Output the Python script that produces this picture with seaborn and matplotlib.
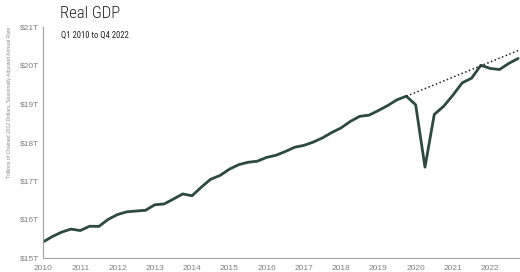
import numpy as np
import pandas as pd
import matplotlib
matplotlib.use("Agg")
import matplotlib.pyplot as plt
import seaborn as sns

# ---- data (trillions of chained 2012 dollars, SAAR) ----
years = list(range(2010, 2023))
quarters = ["Q1", "Q2", "Q3", "Q4"]
gdp = [
    15.415, 15.557, 15.672, 15.751,   # 2010
    15.713, 15.825, 15.821, 16.004,   # 2011
    16.129, 16.199, 16.221, 16.239,   # 2012
    16.383, 16.403, 16.532, 16.664,   # 2013
    16.617, 16.842, 17.047, 17.143,   # 2014
    17.306, 17.423, 17.486, 17.514,   # 2015
    17.613, 17.668, 17.764, 17.876,   # 2016
    17.925, 18.010, 18.120, 18.260,   # 2017
    18.380, 18.550, 18.680, 18.710,   # 2018
    18.830, 18.960, 19.110, 19.202,   # 2019
    18.980, 17.360, 18.730, 18.940,   # 2020
    19.230, 19.550, 19.670, 20.006,   # 2021
    19.924, 19.895, 20.055, 20.183,   # 2022
]
trend_x = [2019.75, 2022.78]
trend_y = [19.202, 20.40]
ytick_vals = [15, 16, 17, 18, 19, 20, 21]
ytick_labels = ["$15T", "$16T", "$17T", "$18T", "$19T", "$20T", "$21T"]
xtick_vals = years
title = "Real GDP"
subtitle = "Q1 2010 to Q4 2022"
ylabel = "Trillions of Chained 2012 Dollars, Seasonally Adjusted Annual Rate"

t = [y + i / 4 for y in years for i in range(4)]
df = pd.DataFrame({"t": t, "gdp": gdp})

sns.set_theme(style="white")
plt.rcParams["font.family"] = ["Liberation Sans", "DejaVu Sans"]
head_font = ["Roboto Condensed", "Open Sans Condensed", "Liberation Sans Narrow",
             "Liberation Sans", "DejaVu Sans"]

fig = plt.figure(figsize=(5.2, 2.72), dpi=100)
ax = fig.add_axes([43 / 520, 14 / 272, 1 - 43 / 520, (258 - 27) / 272])

sns.lineplot(data=df, x="t", y="gdp", ax=ax, color="#2c4a40", linewidth=2.0)
ax.plot(trend_x, trend_y, color="#222222", linestyle=(0, (1, 1.6)), linewidth=1.1)

ax.set_xlim(2010, 2022.8)
ax.set_ylim(15, 21)
ax.set_xticks(xtick_vals)
ax.set_xticklabels([str(y) for y in xtick_vals])
ax.set_yticks(ytick_vals)
ax.set_yticklabels(ytick_labels)
ax.tick_params(axis="both", length=0, labelsize=6, colors="#808080", pad=3)
ax.tick_params(axis="x", pad=5)
ax.set_xlabel("")
ax.set_ylabel("")
for s in ["top", "right"]:
    ax.spines[s].set_visible(False)
for s in ["left", "bottom"]:
    ax.spines[s].set_color("#a0a0a0")
    ax.spines[s].set_linewidth(0.8)

fig.text(60 / 520, 1 - 14 / 272, title, fontsize=12, color="#222222",
         family=head_font, fontweight="light", va="center", ha="left")
fig.text(61 / 520, 1 - 35 / 272, subtitle, fontsize=6.2, color="#222222",
         family=head_font, va="center", ha="left")
fig.text(10 / 520, 1 - 27 / 272, ylabel, fontsize=3.6, color="#888888",
         rotation=90, ha="center", va="top")

fig.savefig("out.png", dpi=100)
